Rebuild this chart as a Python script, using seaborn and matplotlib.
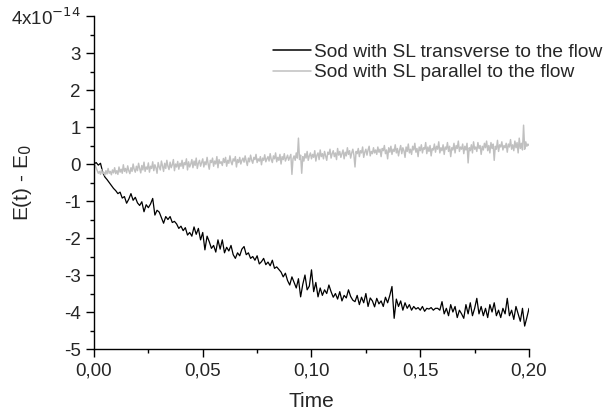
import numpy as np
import pandas as pd
import matplotlib
matplotlib.use("Agg")
import matplotlib.pyplot as plt
from matplotlib.ticker import MultipleLocator, FuncFormatter
import seaborn as sns

# time axes: transverse run sampled every 0.001, parallel every 0.0005
time_t = np.round(np.arange(0, 201) * 0.001, 4)
time_p = np.round(np.arange(0, 401) * 0.0005, 4)

# energy drift, units of 1e-14
transverse = [
    0.00, 0.04, -0.03, 0.02, -0.22, -0.35, -0.42, -0.50, -0.58, -0.66,
    -0.72, -0.80, -0.76, -0.92, -0.88, -1.06, -0.95, -0.80, -0.98, -0.90,
    -1.05, -1.12, -1.02, -1.29, -1.10, -1.18, -1.08, -0.93, -1.38, -1.25,
    -1.30, -1.45, -1.60, -1.42, -1.50, -1.42, -1.58, -1.55, -1.62, -1.74,
    -1.68, -1.80, -1.72, -1.92, -1.85, -1.95, -1.70, -1.90, -1.74, -2.05,
    -1.85, -2.32, -1.95, -2.10, -2.28, -2.20, -2.38, -2.05, -2.30, -2.05,
    -2.40, -2.25, -2.35, -2.20, -2.45, -2.55, -2.40, -2.48, -2.30, -2.23,
    -2.45, -2.40, -2.55, -2.50, -2.60, -2.48, -2.70, -2.64, -2.55, -2.72,
    -2.65, -2.75, -2.60, -2.82, -2.78, -2.85, -2.92, -3.05, -2.95, -3.15,
    -3.27, -3.05, -3.20, -3.35, -3.10, -3.59, -3.25, -3.00, -3.40, -3.30,
    -2.86, -3.45, -3.20, -3.59, -3.35, -3.55, -3.40, -3.50, -3.27, -3.45,
    -3.60, -3.50, -3.65, -3.45, -3.70, -3.55, -3.62, -3.40, -3.58, -3.68,
    -3.72, -3.55, -3.80, -3.60, -3.75, -3.50, -3.85, -3.62, -3.70, -3.86,
    -3.63, -3.78, -3.70, -3.85, -3.60, -3.75, -3.55, -3.31, -4.17, -3.65,
    -3.85, -3.70, -3.95, -3.75, -3.90, -3.80, -3.95, -3.85, -3.92, -3.88,
    -3.95, -3.85, -3.98, -3.90, -3.92, -3.88, -3.95, -3.90, -3.90, -3.95,
    -3.72, -4.05, -3.90, -4.10, -3.80, -4.00, -3.85, -4.15, -3.95, -4.05,
    -4.17, -3.80, -4.05, -3.75, -4.10, -3.90, -3.63, -4.05, -3.85, -4.10,
    -3.90, -4.15, -3.80, -4.00, -3.75, -4.10, -3.95, -4.15, -3.90, -4.05,
    -3.63, -4.10, -3.95, -4.20, -3.85, -4.05, -4.25, -3.90, -4.38, -4.15,
    -3.90,
]

parallel = [
    0.00, -0.03, -0.10, -0.18, -0.25, -0.20, -0.28, -0.15, -0.26, -0.22, -0.30, -0.18, -0.27, -0.12, -0.25, -0.20, -0.29, -0.16, -0.24, -0.10,
    -0.26, -0.18, -0.28, -0.08, -0.22, -0.14, -0.25, -0.02, -0.20, -0.12, -0.24, -0.05, -0.18, -0.26, -0.10, -0.20, 0.00, -0.15, -0.22, -0.06,
    -0.18, 0.02, -0.12, -0.24, -0.04, -0.16, 0.05, -0.20, -0.08, -0.14, 0.03, -0.22, -0.06, -0.12, 0.06, -0.18, -0.02, -0.10, -0.25, 0.04,
    -0.08, -0.16, 0.08, -0.05, -0.20, 0.02, -0.12, 0.10, -0.06, -0.15, 0.05, -0.10, -0.02, 0.12, -0.18, 0.00, -0.08, 0.07, -0.14, 0.02,
    -0.06, 0.10, -0.12, 0.04, -0.02, 0.14, -0.16, 0.06, -0.08, 0.00, 0.12, -0.10, 0.08, -0.04, 0.16, -0.12, 0.02, 0.10, -0.06, 0.04,
    0.14, -0.08, 0.06, -0.02, 0.18, 0.00, -0.14, 0.10, 0.04, 0.16, -0.06, 0.08, 0.00, 0.20, -0.10, 0.12, 0.02, 0.06, -0.04, 0.15,
    0.04, 0.18, -0.06, 0.10, 0.02, 0.22, 0.06, -0.02, 0.14, 0.08, 0.20, -0.08, 0.12, 0.04, 0.18, 0.00, 0.10, 0.16, 0.05, 0.22,
    0.08, -0.04, 0.16, 0.06, 0.24, 0.10, 0.02, 0.18, 0.12, 0.26, 0.04, 0.14, 0.08, 0.20, -0.02, 0.16, 0.10, 0.25, 0.06, 0.14,
    0.20, 0.08, 0.28, 0.12, 0.04, 0.22, 0.14, 0.30, 0.06, 0.18, 0.10, 0.26, 0.00, 0.20, 0.12, 0.28, 0.08, 0.16, 0.24, 0.10,
    0.18, 0.26, -0.28, 0.14, 0.22, 0.10, 0.30, 0.16, 0.70, 0.12, 0.24, -0.25, 0.20, 0.08, 0.28, 0.16, 0.34, 0.10, 0.22, 0.30,
    0.14, 0.26, 0.18, 0.36, 0.08, 0.24, 0.30, 0.12, 0.38, 0.20, 0.28, 0.14, 0.34, 0.22, 0.10, 0.32, 0.26, 0.40, 0.16, 0.28,
    0.36, 0.20, 0.30, 0.12, 0.42, 0.24, 0.34, 0.18, 0.28, 0.38, 0.14, 0.32, 0.22, 0.44, 0.26, 0.36, 0.16, 0.30, 0.40, 0.24,
    -0.08, 0.34, 0.28, 0.42, 0.20, 0.36, 0.30, 0.46, 0.18, 0.32, 0.40, 0.24, 0.38, 0.48, 0.22, 0.34, 0.28, 0.44, 0.30, 0.38,
    0.26, 0.46, 0.32, 0.40, 0.20, 0.42, 0.36, 0.50, 0.28, 0.38, 0.14, 0.44, 0.32, 0.48, 0.26, 0.40, 0.34, 0.52, 0.30, 0.42,
    0.22, 0.38, 0.50, 0.28, 0.44, 0.36, 0.18, 0.46, 0.34, 0.54, 0.30, 0.40, 0.26, 0.48, 0.38, 0.56, 0.32, 0.42, 0.20, 0.46,
    0.36, 0.52, 0.30, 0.44, 0.40, 0.58, 0.28, 0.46, 0.34, 0.50, 0.22, 0.42, 0.38, 0.54, 0.32, 0.48, 0.40, 0.60, 0.30, 0.44,
    0.36, 0.52, 0.26, 0.46, 0.40, 0.58, 0.34, 0.48, 0.20, 0.44, 0.38, 0.56, 0.30, 0.50, 0.42, 0.62, 0.34, 0.46, 0.40, 0.54,
    0.28, 0.48, 0.38, 0.56, 0.03, 0.44, 0.36, 0.52, 0.30, 0.60, 0.40, 0.46, 0.34, 0.58, 0.42, 0.50, 0.26, 0.48, 0.38, 0.56,
    0.44, 0.62, 0.36, 0.50, 0.30, 0.58, 0.42, 0.54, 0.10, 0.48, 0.40, 0.64, 0.34, 0.52, 0.46, 0.60, 0.38, 0.50, 0.44, 0.56,
    0.32, 0.54, 0.46, 0.66, 0.40, 0.52, 0.36, 0.62, 0.44, 0.58, 0.30, 0.70, 0.42, 0.56, 0.38, 1.05, 0.40, 0.60, 0.48, 0.54,
    0.50,
]

labels = ["Sod with SL transverse to the flow", "Sod with SL parallel to the flow"]
colors = ["#000000", "#c0c0c0"]

df_t = pd.DataFrame({"time": time_t, "energy": transverse, "case": labels[0]})
df_p = pd.DataFrame({"time": time_p, "energy": parallel, "case": labels[1]})

sns.set_style("ticks")
plt.rcParams["font.family"] = ["Liberation Sans", "DejaVu Sans"]

fig = plt.figure(figsize=(6.13, 4.16), dpi=100)
ax = fig.add_axes([0.1533, 0.161, 0.7097, 0.8005])

sns.lineplot(data=df_t, x="time", y="energy", color=colors[0], label=labels[0],
             linewidth=0.9, ax=ax, estimator=None, sort=False)
sns.lineplot(data=df_p, x="time", y="energy", color=colors[1], label=labels[1],
             linewidth=1.05, ax=ax, estimator=None, sort=False)

ax.set_xlim(0, 0.2)
ax.set_ylim(-5, 4)
ax.xaxis.set_major_locator(MultipleLocator(0.05))
ax.xaxis.set_minor_locator(MultipleLocator(0.025))
ax.yaxis.set_major_locator(MultipleLocator(1))
ax.yaxis.set_minor_locator(MultipleLocator(0.5))
ax.xaxis.set_major_formatter(FuncFormatter(lambda v, p: f"{v:.2f}".replace(".", ",")))


def ylab(v, p):
    if abs(v - 4) < 1e-9:
        return r"4x10$^{-14}$"
    return f"{int(round(v))}"


ax.yaxis.set_major_formatter(FuncFormatter(ylab))
ax.tick_params(which="major", direction="out", length=6, width=1, labelsize=13.5, color="black")
ax.tick_params(which="minor", direction="out", length=3, width=1, color="black")
for s in ["top", "right"]:
    ax.spines[s].set_visible(False)
for s in ["left", "bottom"]:
    ax.spines[s].set_linewidth(1)
    ax.spines[s].set_color("black")

ax.set_xlabel("Time", fontsize=15)
ax.set_ylabel("E(t) - E$_0$", fontsize=15)
ax.xaxis.set_label_coords(0.5, -0.13)
ax.yaxis.set_label_coords(-0.137, 0.5)

leg = ax.legend(loc="upper left", bbox_to_anchor=(0.3935, 0.94), frameon=False,
                fontsize=13.8, handlelength=2.0, handletextpad=0.15, labelspacing=0.15,
                borderaxespad=0)
for line in leg.get_lines():
    line.set_linewidth(1.1)

fig.savefig("out.png", dpi=100)
